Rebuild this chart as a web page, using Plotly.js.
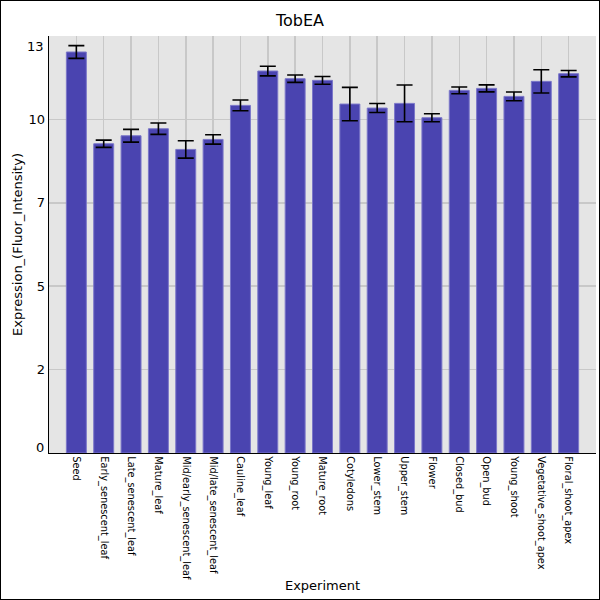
<!DOCTYPE html>
<html lang="en">
<head>
    <meta charset="UTF-8">
    <script src="https://cdn.plot.ly/plotly-3.0.1.min.js"></script>
    <title>TobEA</title>
    <style>
        body { margin: 0; }
        #frame {
            position: absolute; left: 0; top: 0;
            width: 600px; height: 600px;
            border: 1px solid #000; box-sizing: border-box; background: #fff;
        }
    </style>
</head>
<body>
    <div id="frame"><div id="chart" style="width:598px;height:598px;"></div></div>

    <script>
        var experiments = ['Seed', 'Early_senescent_leaf', 'Late_senescent_leaf', 'Mature_leaf',
            'Mid/early_senescent_leaf', 'Mid/late_senescent_leaf', 'Cauline_leaf', 'Young_leaf',
            'Young_root', 'Mature_root', 'Cotyledons', 'Lower_stem', 'Upper_stem', 'Flower',
            'Closed_bud', 'Open_bud', 'Young_shoot', 'Vegetative_shoot_apex', 'Floral_shoot_apex']
        var expression = [12.02, 9.27, 9.51, 9.72, 9.10, 9.40, 10.42, 11.45, 11.22, 11.17,
            10.46, 10.34, 10.48, 10.05, 10.87, 10.93, 10.69, 11.14, 11.37]
        var stdErr = [0.19, 0.11, 0.19, 0.17, 0.26, 0.14, 0.16, 0.145, 0.11, 0.115,
            0.50, 0.135, 0.55, 0.12, 0.10, 0.105, 0.13, 0.35, 0.095]

        // gridline ticks; the end labels sit nudged inside the axis, so they go in as annotations
        var yTickVals = [2.5, 5, 7.5, 10]
        var yTickText = ['2', '5', '7', '10']
        var yEndVals = [0.17, 12.2]
        var yEndText = ['0', '13']

        var font = 'DejaVu Sans, sans-serif'

        var trace = {
            x: experiments.map(function(d, i) { return i }),
            y: expression,
            type: 'bar',
            width: 0.73,
            marker: { color: '#4a44b0', line: { color: '#7b77c9', width: 1 } },
            error_y: { type: 'data', array: stdErr, visible: true, color: '#000', thickness: 1.6, width: 8 },
            hoverinfo: 'x+y'
        }

        var ends = yEndVals.map(function(v, i) {
            return {
                xref: 'paper', yref: 'y', x: 0, y: v, text: yEndText[i],
                xanchor: 'right', yanchor: 'middle', xshift: -3, showarrow: false,
                font: { family: font, size: 13, color: '#000' }
            }
        })

        var layout = {
            width: 598, height: 598,
            margin: { l: 48, r: 3, t: 35, b: 146 },
            paper_bgcolor: '#fff',
            plot_bgcolor: '#e5e5e5',
            font: { family: font, color: '#000' },
            title: { text: 'TobEA', font: { size: 16, family: font }, x: 0.5, xanchor: 'center',
                y: 0.968, yanchor: 'middle' },
            showlegend: false,
            xaxis: {
                range: [-1, 19],
                tickvals: experiments.map(function(d, i) { return i }),
                ticktext: experiments,
                tickangle: 90,
                tickfont: { size: 9.8, family: font },
                showgrid: true, gridcolor: '#c8c8c8', gridwidth: 1.5,
                showline: true, linecolor: '#000', linewidth: 1.3,
                ticks: '', zeroline: false,
                title: { text: 'Experiment', font: { size: 13, family: font }, standoff: 2 }
            },
            yaxis: {
                range: [0, 12.5],
                tickvals: yTickVals,
                ticktext: yTickText,
                tickfont: { size: 13, family: font },
                showgrid: true, gridcolor: '#c8c8c8', gridwidth: 1.5,
                showline: true, linecolor: '#000', linewidth: 1.3,
                ticks: '', zeroline: false,
                title: { text: 'Expression_(Fluor_Intensity)', font: { size: 13, family: font }, standoff: 3 }
            },
            annotations: ends
        }

        Plotly.newPlot('chart', [trace], layout, { displayModeBar: false, staticPlot: true })
    </script>
</body>
</html>
